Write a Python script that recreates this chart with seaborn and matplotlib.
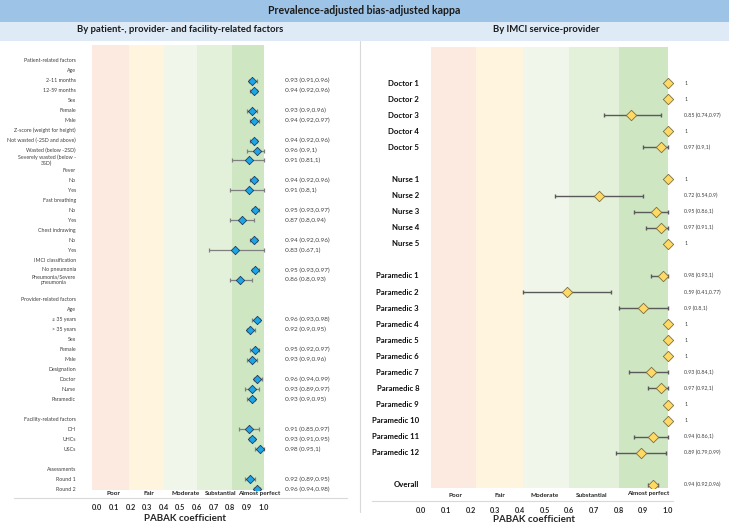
import numpy as np
import pandas as pd
import matplotlib.pyplot as plt
from matplotlib.patches import Rectangle
from matplotlib.lines import Line2D
import seaborn as sns

sns.set_theme(style="white")
plt.rcParams["font.family"] = ["Lato", "DejaVu Sans"]

W, H = 729, 525
nan = np.nan

# ── Data: by patient-, provider- and facility-related factors ───────────────
left_labels = [
    "Patient-related factors", "Age", "2-11 months", "12-59 months",
    "Sex", "Female", "Male", "Z-score (weight for height)",
    "Not wasted (-2SD and above)", "Wasted (below -2SD)",
    "Severely wasted (below -\n3SD)", "Fever", "No", "Yes",
    "Fast breathing", "No", "Yes", "Chest indrawing", "No", "Yes",
    "IMCI classification", "No pneumonia", "Pneumonia/Severe\npneumonia", "",
    "Provider-related factors", "Age", "≤ 35 years", "> 35 years",
    "Sex", "Female", "Male", "Designation", "Doctor", "Nurse", "Paramedic", "",
    "Facility-related factors", "DH", "UHCs", "USCs", "",
    "Assessments", "Round 1", "Round 2",
]
left_est = [nan, nan, 0.93, 0.94, nan, 0.93, 0.94, nan, 0.94, 0.96, 0.91,
            nan, 0.94, 0.91, nan, 0.95, 0.87, nan, 0.94, 0.83, nan, 0.95,
            0.86, nan, nan, nan, 0.96, 0.92, nan, 0.95, 0.93, nan, 0.96,
            0.93, 0.93, nan, nan, 0.91, 0.93, 0.98, nan, nan, 0.92, 0.96]
left_lo = [nan, nan, 0.91, 0.92, nan, 0.90, 0.92, nan, 0.92, 0.90, 0.81,
           nan, 0.92, 0.80, nan, 0.93, 0.80, nan, 0.92, 0.67, nan, 0.93,
           0.80, nan, nan, nan, 0.93, 0.90, nan, 0.92, 0.90, nan, 0.94,
           0.89, 0.90, nan, nan, 0.85, 0.91, 0.95, nan, nan, 0.89, 0.94]
left_hi = [nan, nan, 0.96, 0.96, nan, 0.96, 0.97, nan, 0.96, 1.00, 1.00,
           nan, 0.96, 1.00, nan, 0.97, 0.94, nan, 0.96, 1.00, nan, 0.97,
           0.93, nan, nan, nan, 0.98, 0.95, nan, 0.97, 0.96, nan, 0.99,
           0.97, 0.95, nan, nan, 0.97, 0.95, 1.00, nan, nan, 0.95, 0.98]

# ── Data: by IMCI service-provider ─────────────────────────────────────────
right_labels = (
    [f"Doctor {i}" for i in range(1, 6)] + [""]
    + [f"Nurse {i}" for i in range(1, 6)] + [""]
    + [f"Paramedic {i}" for i in range(1, 13)] + ["", "Overall"]
)
right_est = [1, 1, 0.85, 1, 0.97, nan, 1, 0.72, 0.95, 0.97, 1, nan,
             0.98, 0.59, 0.90, 1, 1, 1, 0.93, 0.97, 1, 1, 0.94, 0.89, nan, 0.94]
right_lo = [nan, nan, 0.74, nan, 0.90, nan, nan, 0.54, 0.86, 0.91, nan, nan,
            0.93, 0.41, 0.80, nan, nan, nan, 0.84, 0.92, nan, nan, 0.86, 0.79, nan, 0.92]
right_hi = [nan, nan, 0.97, nan, 1.00, nan, nan, 0.90, 1.00, 1.00, nan, nan,
            1.00, 0.77, 1.00, nan, nan, nan, 1.00, 1.00, nan, nan, 1.00, 0.99, nan, 0.96]

band_names = ["Poor", "Fair", "Moderate", "Substantial", "Almost perfect"]
band_colors = ["#fce9e0", "#fff5de", "#f0f7ea", "#e3f0da", "#cfe6c3"]
left_band_edges = [-0.03, 0.19, 0.40, 0.60, 0.81, 1.00]
right_band_edges = [0.04, 0.22, 0.41, 0.60, 0.80, 1.00]
left_band_text_x = [0.10, 0.31, 0.53, 0.74, 0.97]
right_band_text_x = [0.14, 0.32, 0.50, 0.69, 0.92]
tick_values = np.round(np.arange(0, 1.01, 0.1), 1)


def px_axes(fig, left, top, right, bottom):
    return fig.add_axes([left / W, 1 - bottom / H, (right - left) / W, (bottom - top) / H])


def fmt_ci(e, lo, hi):
    if np.isnan(lo):
        return f"{e:g}"
    return f"{e:g} ({lo:g},{hi:g})"


def draw_panel(ax, labels, est, lo, hi, ylim, xlim, edges, band_x, style):
    df = pd.DataFrame({"row": np.arange(len(labels)), "label": labels,
                       "est": est, "lo": lo, "hi": hi})

    for (a, b), c in zip(zip(edges[:-1], edges[1:]), band_colors):
        ax.axvspan(a, b, color=c, lw=0, zorder=0)

    ci = df.dropna(subset=["lo"])
    ax.errorbar(ci["est"], ci["row"], xerr=[ci["est"] - ci["lo"], ci["hi"] - ci["est"]],
                fmt="none", ecolor=style["ecolor"], elinewidth=style["elw"],
                capsize=style["capsize"], capthick=style["elw"], zorder=2)

    pts = df.dropna(subset=["est"])
    sns.scatterplot(data=pts, x="est", y="row", marker="D", s=style["s"],
                    color=style["face"], edgecolor=style["edge"], linewidth=0.6,
                    legend=False, zorder=3, ax=ax)

    for _, r in df.iterrows():
        if r["label"]:
            ax.text(style["label_x"], r["row"], r["label"], ha="right", va="center",
                    multialignment="center", fontsize=style["label_fs"],
                    fontweight=style["label_fw"], color=style["label_color"])
        if not np.isnan(r["est"]):
            ax.text(style["value_x"], r["row"], fmt_ci(r["est"], r["lo"], r["hi"]),
                    ha="left", va="center", fontsize=style["value_fs"], color="#404040")

    trans = ax.get_xaxis_transform()
    for name, bx, dy in zip(band_names, band_x, style["band_dy"]):
        ax.text(bx, dy, name, transform=trans, ha="center", va="center",
                fontsize=4.6, fontweight="bold", color="#262626")

    ax.set_xlim(*xlim)
    ax.set_ylim(*ylim)
    ax.set_yticks([])
    ax.set_ylabel("")
    for side in ["left", "right", "top"]:
        ax.spines[side].set_visible(False)
    # outward offset is in points
    ax.spines["bottom"].set_position(("outward", style["outward_px"] * 0.72))
    ax.spines["bottom"].set_color("#d9d9d9")
    ax.spines["bottom"].set_linewidth(0.8)
    ax.set_xticks(style["ticks"])
    ax.set_xticklabels([f"{t:.1f}" if t >= 0 else "" for t in style["ticks"]],
                       fontsize=5.3, fontweight="bold", color="#262626")
    ax.tick_params(axis="x", length=style["tick_len"], width=0.6, color="#d9d9d9",
                   pad=style["tick_pad"])
    ax.set_xlabel("PABAK coefficient", fontsize=7, fontweight="bold", color="#262626")
    ax.xaxis.set_label_coords(*style["xlabel_xy"])
    ax.xaxis.label.set_va("center")
    ax.set_facecolor("none")


fig = plt.figure(figsize=(W / 100, H / 100), dpi=100)
fig.patch.set_facecolor("white")

# header bands
fig.add_artist(Rectangle((0, 1 - 22 / H), 1, 22 / H, transform=fig.transFigure,
                         facecolor="#9dc3e6", edgecolor="none"))
fig.add_artist(Rectangle((0, 1 - 41 / H), 1, 19 / H, transform=fig.transFigure,
                         facecolor="#deebf7", edgecolor="none"))
fig.text(0.5, 1 - 11 / H, "Prevalence-adjusted bias-adjusted kappa", ha="center",
         va="center", fontsize=7.6, fontweight="bold", color="#1a1a1a")
fig.text(180 / W, 1 - 30 / H, "By patient-, provider- and facility-related factors",
         ha="center", va="center", fontsize=6.8, fontweight="bold", color="#1a1a1a")
fig.text(546 / W, 1 - 30 / H, "By IMCI service-provider", ha="center", va="center",
         fontsize=6.8, fontweight="bold", color="#1a1a1a")
fig.add_artist(Line2D([360 / W, 360 / W], [1 - 512 / H, 1 - 41 / H],
                      transform=fig.transFigure, color="#d9d9d9", lw=0.8))

ax_l = px_axes(fig, 14, 45, 347, 490)
draw_panel(ax_l, left_labels, left_est, left_lo, left_hi,
           ylim=(43.1, -1.6), xlim=(-0.5, 1.5), edges=left_band_edges,
           band_x=left_band_text_x,
           style=dict(ecolor="#7f7f7f", elw=0.9, capsize=1.2, s=18,
                      face="#1ea5e6", edge="#1f3b5c", label_x=-0.128,
                      label_fs=3.8, label_fw="normal", label_color="#404040",
                      value_x=1.126, value_fs=4.6, band_dy=[-0.008] * 5,
                      outward_px=8, ticks=tick_values, tick_len=0, tick_pad=4.0,
                      xlabel_xy=(0.513, -0.063)))

ax_r = px_axes(fig, 372, 47, 673, 488)
draw_panel(ax_r, right_labels, right_est, right_lo, right_hi,
           ylim=(25.19, -2.24), xlim=(-0.2, 1.02), edges=right_band_edges,
           band_x=right_band_text_x,
           style=dict(ecolor="#595959", elw=1.0, capsize=1.5, s=28,
                      face="#ffd966", edge="#7f6f3a", label_x=-0.009,
                      label_fs=5.6, label_fw="bold", label_color="#0d0d0d",
                      value_x=1.066, value_fs=3.8,
                      band_dy=[-0.018, -0.018, -0.018, -0.016, -0.012],
                      outward_px=13, ticks=np.round(np.arange(-0.2, 1.01, 0.1), 1),
                      tick_len=2.5, tick_pad=2.0, xlabel_xy=(0.538, -0.072)))

fig.savefig("out.png", dpi=100)
